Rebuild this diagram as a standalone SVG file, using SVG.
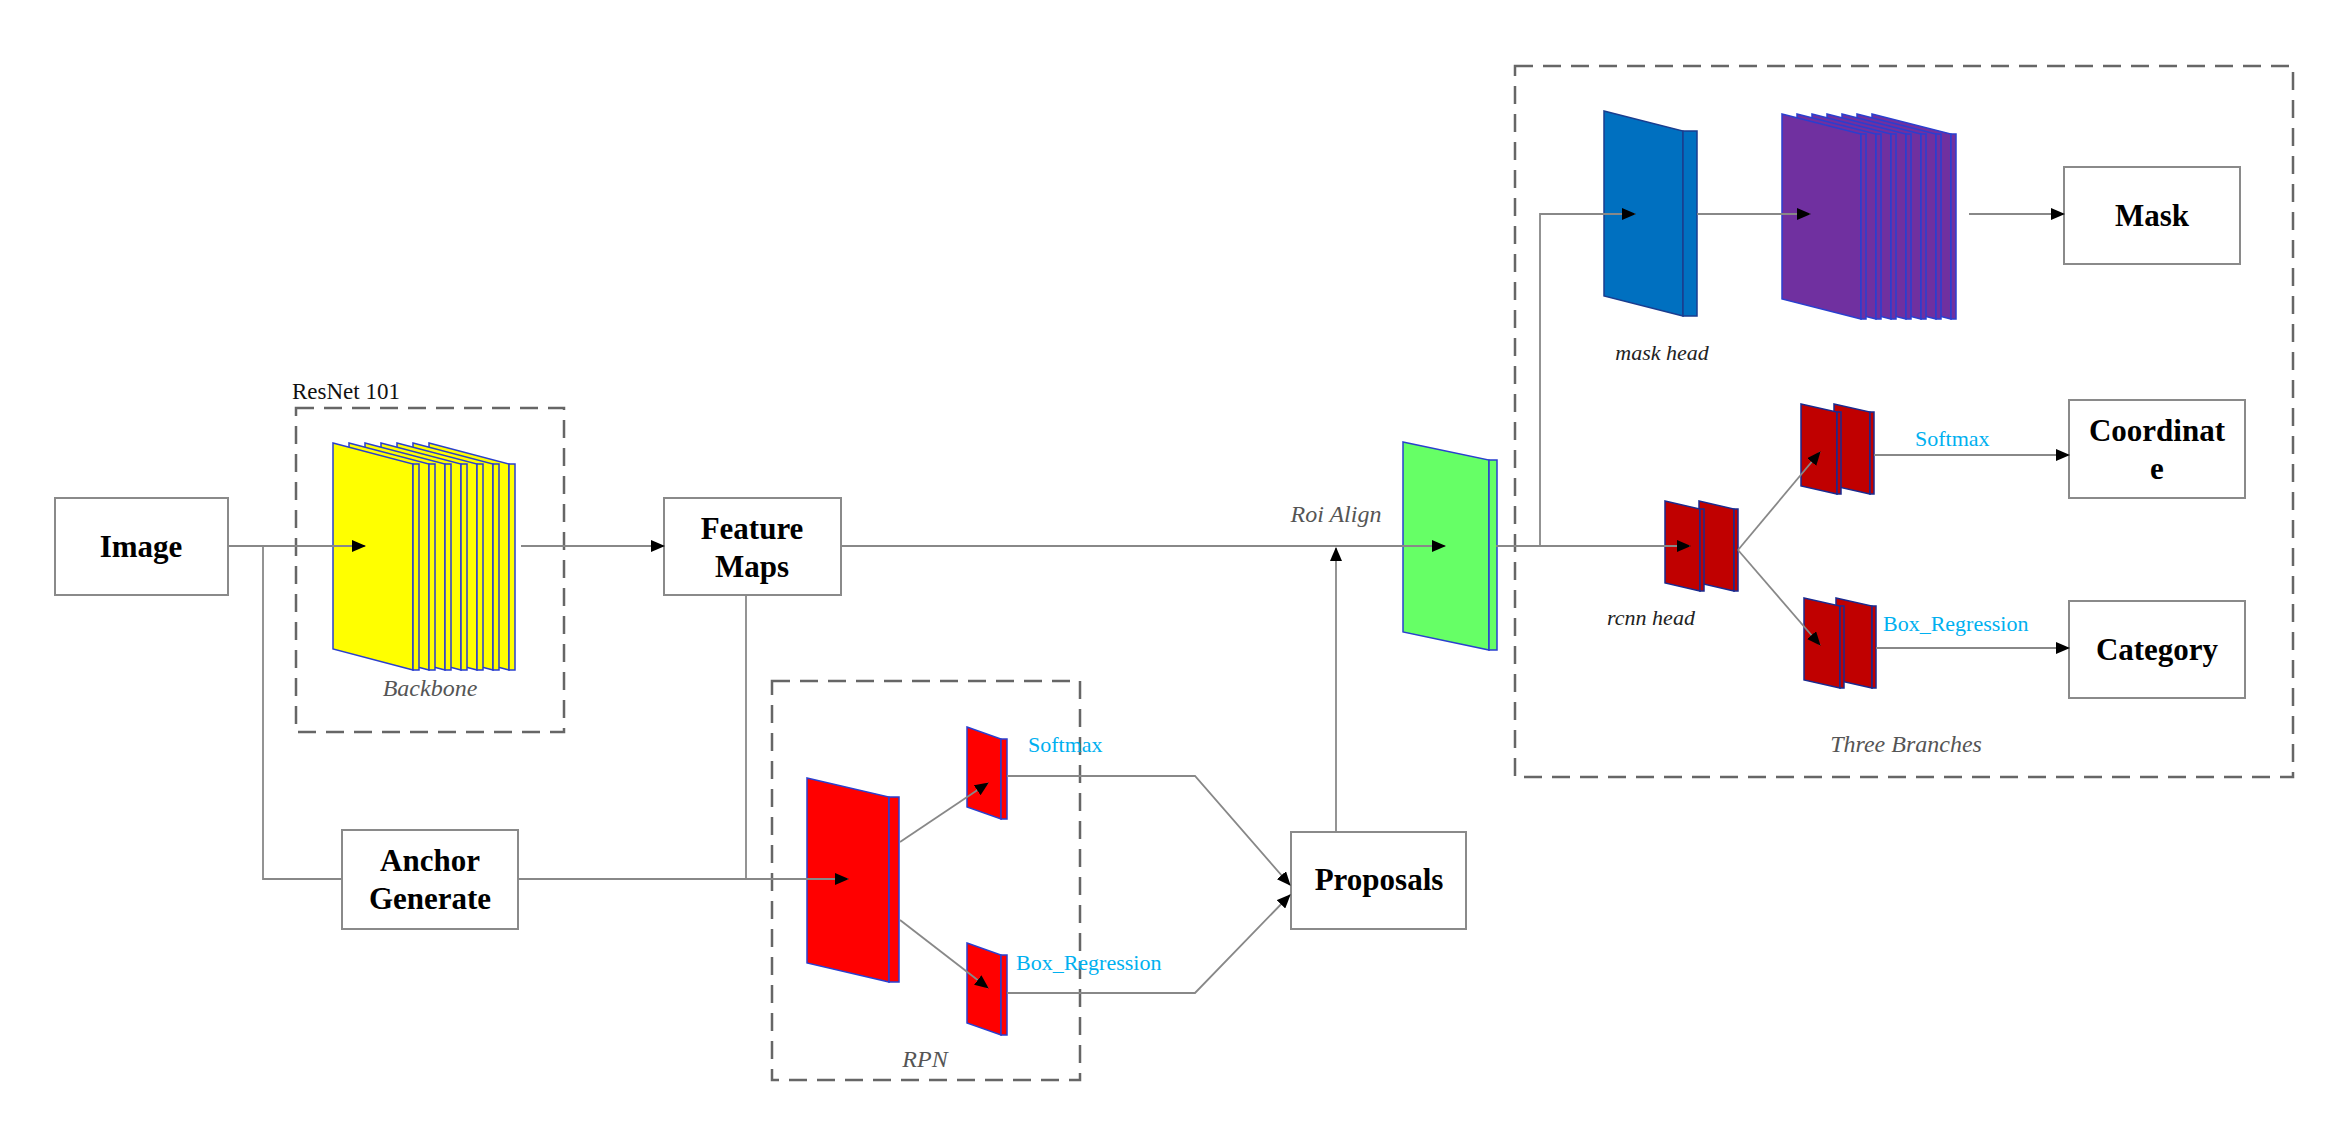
<svg xmlns="http://www.w3.org/2000/svg" width="2333" height="1121" viewBox="0 0 2333 1121">
<style>
.box{fill:#fff;stroke:#8a8a8a;stroke-width:2}
.bt{font-family:"Liberation Serif",serif;font-weight:bold;font-size:31px;fill:#000;text-anchor:middle}
.it{font-family:"Liberation Serif",serif;font-style:italic;font-size:24px;fill:#555;text-anchor:middle}
.it2{font-family:"Liberation Serif",serif;font-style:italic;font-size:22px;fill:#222;text-anchor:middle}
.bl{font-family:"Liberation Serif",serif;font-size:22px;fill:#00B0F0}
.dash{fill:none;stroke:#666;stroke-width:2.5;stroke-dasharray:18,10}
.ln{fill:none;stroke:#888;stroke-width:1.8}
.sh{stroke:#2a3fcf;stroke-width:1.5}
</style>
<defs>
<marker id="ar" markerWidth="14" markerHeight="12" refX="13" refY="6" orient="auto" markerUnits="userSpaceOnUse">
<path d="M0,0 L14,6 L0,12 Z" fill="#000"/>
</marker>
</defs>
<rect width="2333" height="1121" fill="#fff"/>

<g id="backbone">
<rect class="dash" x="296" y="408" width="268" height="324"/>
<text x="292" y="399" font-family="Liberation Serif,serif" font-size="23" fill="#111">ResNet 101</text>
<g fill="#ffff00" class="sh">
<g transform="translate(429,443)"><path d="M0,0 L80,21 L80,227 L0,206 Z"/><path d="M80,21 h6 v206 h-6 Z"/></g>
<g transform="translate(413,443)"><path d="M0,0 L80,21 L80,227 L0,206 Z"/><path d="M80,21 h6 v206 h-6 Z"/></g>
<g transform="translate(397,443)"><path d="M0,0 L80,21 L80,227 L0,206 Z"/><path d="M80,21 h6 v206 h-6 Z"/></g>
<g transform="translate(381,443)"><path d="M0,0 L80,21 L80,227 L0,206 Z"/><path d="M80,21 h6 v206 h-6 Z"/></g>
<g transform="translate(365,443)"><path d="M0,0 L80,21 L80,227 L0,206 Z"/><path d="M80,21 h6 v206 h-6 Z"/></g>
<g transform="translate(349,443)"><path d="M0,0 L80,21 L80,227 L0,206 Z"/><path d="M80,21 h6 v206 h-6 Z"/></g>
<g transform="translate(333,443)"><path d="M0,0 L80,21 L80,227 L0,206 Z"/><path d="M80,21 h6 v206 h-6 Z"/></g>
</g>
<text class="it" x="430" y="696">Backbone</text>
</g>

<g id="image"><rect class="box" x="55" y="498" width="173" height="97"/><text class="bt" x="141" y="557">Image</text></g>
<g id="feature-maps"><rect class="box" x="664" y="498" width="177" height="97"/><text class="bt" x="752" y="539">Feature</text><text class="bt" x="752" y="577">Maps</text></g>
<g id="anchor"><rect class="box" x="342" y="830" width="176" height="99"/><text class="bt" x="430" y="871">Anchor</text><text class="bt" x="430" y="909">Generate</text></g>
<g id="proposals"><rect class="box" x="1291" y="832" width="175" height="97"/><text class="bt" x="1379" y="890">Proposals</text></g>

<g id="rpn">
<rect class="dash" x="772" y="681" width="308" height="399"/>
<g fill="#ff0000" class="sh">
<g transform="translate(807,778)"><path d="M0,0 L82,19 L82,204 L0,185 Z"/><path d="M82,19 h10 v185 h-10 Z"/></g>
<g transform="translate(967,727)"><path d="M0,0 L34,12 L34,92 L0,80 Z"/><path d="M34,12 h6 v80 h-6 Z"/></g>
<g transform="translate(967,943)"><path d="M0,0 L34,12 L34,92 L0,80 Z"/><path d="M34,12 h6 v80 h-6 Z"/></g>
</g>
<text class="bl" x="1028" y="752">Softmax</text>
<text class="bl" x="1016" y="970">Box_Regression</text>
<text class="it" x="925" y="1067">RPN</text>
</g>

<g id="roi-align">
<g fill="#66ff66" class="sh"><g transform="translate(1403,442)"><path d="M0,0 L86,18 L86,208 L0,190 Z"/><path d="M86,18 h8 v190 h-8 Z"/></g></g>
<text class="it" x="1336" y="522">Roi Align</text>
</g>

<g id="three-branches">
<rect class="dash" x="1515" y="66" width="778" height="711"/>
<g fill="#0070C0" stroke="#1a3d8f" stroke-width="1.5"><g transform="translate(1604,111)"><path d="M0,0 L79,20 L79,205 L0,185 Z"/><path d="M79,20 h14 v185 h-14 Z"/></g></g>
<g fill="#7030A0" class="sh">
<g transform="translate(1872,114)"><path d="M0,0 L79,20 L79,205 L0,185 Z"/><path d="M79,20 h5 v185 h-5 Z"/></g>
<g transform="translate(1857,114)"><path d="M0,0 L79,20 L79,205 L0,185 Z"/><path d="M79,20 h5 v185 h-5 Z"/></g>
<g transform="translate(1842,114)"><path d="M0,0 L79,20 L79,205 L0,185 Z"/><path d="M79,20 h5 v185 h-5 Z"/></g>
<g transform="translate(1827,114)"><path d="M0,0 L79,20 L79,205 L0,185 Z"/><path d="M79,20 h5 v185 h-5 Z"/></g>
<g transform="translate(1812,114)"><path d="M0,0 L79,20 L79,205 L0,185 Z"/><path d="M79,20 h5 v185 h-5 Z"/></g>
<g transform="translate(1797,114)"><path d="M0,0 L79,20 L79,205 L0,185 Z"/><path d="M79,20 h5 v185 h-5 Z"/></g>
<g transform="translate(1782,114)"><path d="M0,0 L79,20 L79,205 L0,185 Z"/><path d="M79,20 h5 v185 h-5 Z"/></g>
</g>
<text class="it2" x="1662" y="360">mask head</text>
<g fill="#C00000" stroke="#1a2a8f" stroke-width="1.5">
<g transform="translate(1699,501)"><path d="M0,0 L35,8 L35,90 L0,82 Z"/><path d="M35,8 h4 v82 h-4 Z"/></g>
<g transform="translate(1665,501)"><path d="M0,0 L35,8 L35,90 L0,82 Z"/><path d="M35,8 h4 v82 h-4 Z"/></g>
<g transform="translate(1834,404)"><path d="M0,0 L36,8 L36,90 L0,82 Z"/><path d="M36,8 h4 v82 h-4 Z"/></g>
<g transform="translate(1801,404)"><path d="M0,0 L36,8 L36,90 L0,82 Z"/><path d="M36,8 h4 v82 h-4 Z"/></g>
<g transform="translate(1836,598)"><path d="M0,0 L36,8 L36,90 L0,82 Z"/><path d="M36,8 h4 v82 h-4 Z"/></g>
<g transform="translate(1804,598)"><path d="M0,0 L36,8 L36,90 L0,82 Z"/><path d="M36,8 h4 v82 h-4 Z"/></g>
</g>
<text class="it2" x="1651" y="625">rcnn head</text>
<text class="bl" x="1915" y="446">Softmax</text>
<text class="bl" x="1883" y="631">Box_Regression</text>
<text class="it" x="1906" y="752">Three Branches</text>
</g>

<g id="mask"><rect class="box" x="2064" y="167" width="176" height="97"/><text class="bt" x="2152" y="226">Mask</text></g>
<g id="coordinate"><rect class="box" x="2069" y="400" width="176" height="98"/><text class="bt" x="2157" y="441">Coordinat</text><text class="bt" x="2157" y="479">e</text></g>
<g id="category"><rect class="box" x="2069" y="601" width="176" height="97"/><text class="bt" x="2157" y="660">Category</text></g>

<g id="connectors">
<path class="ln" d="M228,546 H365" marker-end="url(#ar)"/>
<path class="ln" d="M521,546 H664" marker-end="url(#ar)"/>
<path class="ln" d="M263,546 V879 H342"/>
<path class="ln" d="M518,879 H848" marker-end="url(#ar)"/>
<path class="ln" d="M746,595 V879"/>
<path class="ln" d="M841,546 H1445" marker-end="url(#ar)"/>
<path class="ln" d="M1336,832 V548" marker-end="url(#ar)"/>
<path class="ln" d="M900,842 L988,783" marker-end="url(#ar)"/>
<path class="ln" d="M900,920 L988,988" marker-end="url(#ar)"/>
<path class="ln" d="M1007,776 H1195 L1290,885" marker-end="url(#ar)"/>
<path class="ln" d="M1007,993 H1195 L1290,895" marker-end="url(#ar)"/>
<path class="ln" d="M1496,546 H1690" marker-end="url(#ar)"/>
<path class="ln" d="M1540,546 V214 H1635" marker-end="url(#ar)"/>
<path class="ln" d="M1697,214 H1810" marker-end="url(#ar)"/>
<path class="ln" d="M1969,214 H2064" marker-end="url(#ar)"/>
<path class="ln" d="M1738,550 L1820,452" marker-end="url(#ar)"/>
<path class="ln" d="M1738,550 L1820,645" marker-end="url(#ar)"/>
<path class="ln" d="M1874,455 H2069" marker-end="url(#ar)"/>
<path class="ln" d="M1876,648 H2069" marker-end="url(#ar)"/>
</g>
</svg>
